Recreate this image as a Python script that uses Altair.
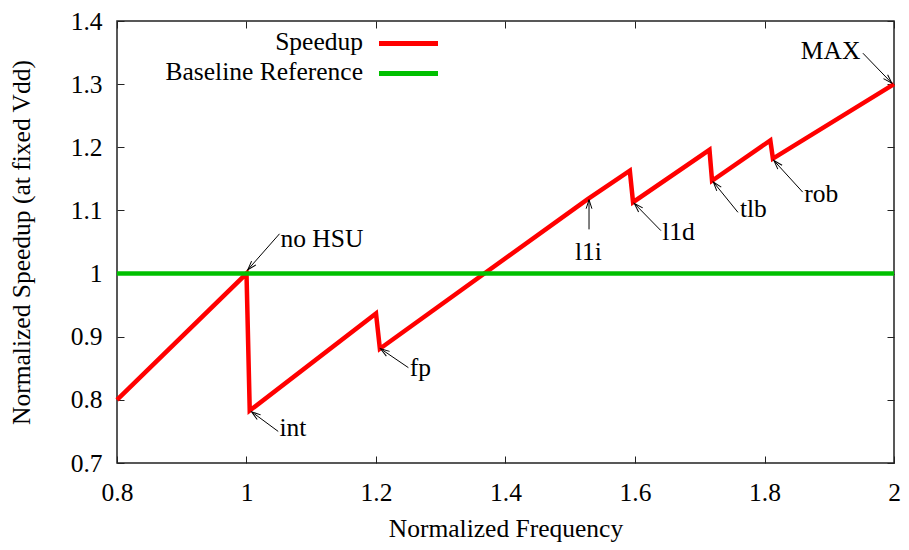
import math
import altair as alt
import pandas as pd

# ---------------- data ----------------
freq = [0.8, 1.0, 1.005, 1.2, 1.206, 1.527, 1.592, 1.597, 1.715, 1.719, 1.809, 1.813, 2.0]
speedup = [0.8, 1.0, 0.783, 0.937, 0.881, 1.118, 1.163, 1.113, 1.196, 1.147, 1.211, 1.182, 1.3]
baseline_freq = [0.8, 2.0]
baseline_speedup = [1.0, 1.0]

series_names = ["Speedup", "Baseline Reference"]
series_colors = ["#ff0000", "#00c000"]

x_ticks = [0.8, 1.0, 1.2, 1.4, 1.6, 1.8, 2.0]
y_ticks = [0.7, 0.8, 0.9, 1.0, 1.1, 1.2, 1.3, 1.4]

ann_label = ["no HSU", "int", "fp", "l1i", "l1d", "tlb", "rob", "MAX"]
ann_align = ["left", "left", "left", "center", "left", "left", "left", "right"]
ann_head_x = [1.002, 1.008, 1.207, 1.529, 1.599, 1.721, 1.8145, 1.9966]
ann_head_y = [1.006, 0.781, 0.881, 1.117, 1.111, 1.145, 1.179, 1.3016]
ann_tail_x = [1.051, 1.049, 1.250, 1.529, 1.640, 1.759, 1.859, 1.952]
ann_tail_y = [1.063, 0.750, 0.851, 1.070, 1.068, 1.097, 1.129, 1.349]
ann_text_x = [1.0525, 1.051, 1.252, 1.528, 1.642, 1.762, 1.8615, 1.948]
ann_text_y = [1.042, 0.742, 0.837, 1.021, 1.053, 1.089, 1.113, 1.340]

# ---------------- layout ----------------
W, H = 777, 442
FONT = "Liberation Serif"
FS = 25.5
X_DOM = [0.8, 2.0]
Y_DOM = [0.7, 1.4]

xs = alt.Scale(domain=X_DOM, nice=False, zero=False)
ys = alt.Scale(domain=Y_DOM, nice=False, zero=False)

px_x = W / (X_DOM[1] - X_DOM[0])
px_y = H / (Y_DOM[1] - Y_DOM[0])

line_df = pd.DataFrame({"i": list(range(len(freq))), "f": freq, "s": speedup})
base_df = pd.DataFrame({"f": baseline_freq, "s": baseline_speedup})

angles = []
for hx, hy, tx, ty in zip(ann_head_x, ann_head_y, ann_tail_x, ann_tail_y):
    dx = (hx - tx) * px_x
    dy = -(hy - ty) * px_y
    angles.append(math.degrees(math.atan2(dy, dx)) % 360)

ann_df = pd.DataFrame({
    "label": ann_label, "align": ann_align,
    "hx": ann_head_x, "hy": ann_head_y,
    "tx": ann_tail_x, "ty": ann_tail_y,
    "lx": ann_text_x, "ly": ann_text_y,
    "ang": angles,
})

TICK_COLOR = "#222222"

def tick_axis(orient, offset, values):
    return alt.Axis(orient=orient, offset=offset, values=values, labels=False,
                    ticks=True, tickSize=7, tickColor=TICK_COLOR, tickWidth=1,
                    domain=False, grid=False, title=None)

x_main = alt.Axis(orient="bottom", values=x_ticks, format="~g", title="Normalized Frequency",
                  ticks=False, tickSize=0, domain=False, grid=False,
                  labelFont=FONT, labelFontSize=FS, labelColor="black",
                  labelBaseline="alphabetic", labelPadding=37, labelFlush=False,
                  labelOverlap=False,
                  titleFont=FONT, titleFontSize=FS, titleFontWeight="normal",
                  titleColor="black", titleBaseline="alphabetic", titleY=73)
y_main = alt.Axis(orient="left", values=y_ticks, format="~g",
                  title="Normalized Speedup (at fixed Vdd)",
                  ticks=False, tickSize=0, domain=False, grid=False,
                  labelFont=FONT, labelFontSize=FS, labelColor="black",
                  labelPadding=15, labelFlush=False, labelOverlap=False,
                  titleFont=FONT, titleFontSize=FS, titleFontWeight="normal",
                  titleColor="black", titleBaseline="alphabetic", titleX=-88, titleY=H / 2)

speed_line = alt.Chart(line_df).mark_line(
    color=series_colors[0], strokeWidth=4.5, strokeJoin="miter", strokeMiterLimit=20
).encode(
    x=alt.X("f:Q", scale=xs, axis=x_main),
    y=alt.Y("s:Q", scale=ys, axis=y_main),
    order=alt.Order("i:Q"),
)

base_line = alt.Chart(base_df).mark_line(
    color=series_colors[1], strokeWidth=4.5
).encode(
    x=alt.X("f:Q", scale=xs, axis=tick_axis("top", -H, x_ticks)),
    y=alt.Y("s:Q", scale=ys, axis=tick_axis("right", -W, y_ticks)),
)

arrows = alt.Chart(ann_df).mark_rule(color="black", strokeWidth=1).encode(
    x=alt.X("tx:Q", scale=xs, axis=tick_axis("bottom", -H, x_ticks)),
    y=alt.Y("ty:Q", scale=ys, axis=tick_axis("left", -W, y_ticks)),
    x2="hx:Q",
    y2="hy:Q",
)

heads = alt.Chart(ann_df).mark_point(
    shape="M-1,-0.32L0,0L-1,0.32", size=324, filled=False, stroke="black", strokeWidth=1, opacity=1
).encode(
    x=alt.X("hx:Q", scale=xs, axis=None),
    y=alt.Y("hy:Q", scale=ys, axis=None),
    angle=alt.Angle("ang:Q", scale=None),
)

texts = []
for al in ["left", "center", "right"]:
    texts.append(
        alt.Chart(ann_df).transform_filter(alt.datum.align == al).mark_text(
            align=al, baseline="alphabetic", font=FONT, fontSize=FS, color="black"
        ).encode(
            x=alt.X("lx:Q", scale=xs, axis=None),
            y=alt.Y("ly:Q", scale=ys, axis=None),
            text="label:N",
        )
    )

# manual gnuplot-style key (text right, sample line on the right)
legend_layers = []
for k, (name, col) in enumerate(zip(series_names, series_colors)):
    row = pd.DataFrame({"name": [name]})
    legend_layers.append(
        alt.Chart(row).mark_text(align="right", baseline="alphabetic", font=FONT,
                                 fontSize=FS, color="black").encode(
            x=alt.value(246), y=alt.value(29 + 30 * k), text="name:N")
    )
    legend_layers.append(
        alt.Chart(row).mark_rule(color=col, strokeWidth=5).encode(
            x=alt.value(262), x2=alt.value(321), y=alt.value(22.5 + 30 * k))
    )

chart = alt.layer(
    speed_line, base_line, arrows, heads, *texts, *legend_layers
).resolve_axis(
    x="independent", y="independent"
).properties(
    width=W, height=H,
    autosize=alt.AutoSizeParams(type="none"),
    padding={"left": 109, "top": 13, "right": 7, "bottom": 79},
    background="white",
).configure(
    font=FONT
).configure_view(
    stroke=TICK_COLOR, strokeWidth=1.5
)

chart.save("out.html", embed_options={"renderer": "svg", "actions": False})
